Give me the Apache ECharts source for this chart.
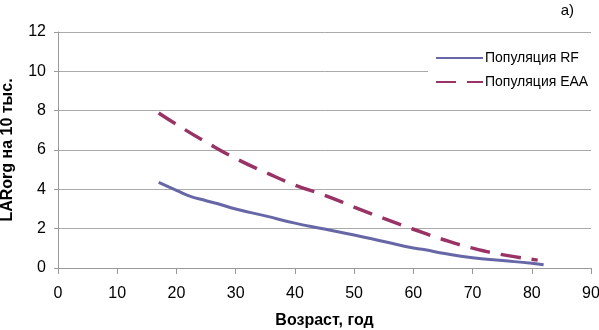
<!DOCTYPE html>
<html>
<head>
<meta charset="utf-8">
<script src="https://cdn.jsdelivr.net/npm/echarts@6/dist/echarts.min.js"></script>
<style>
  html, body { margin: 0; padding: 0; background: #fff; }
  #main { width: 599px; height: 330px; }
</style>
</head>
<body>
<div id="main"></div>
<script>
// возраст, годы
var agesRF  = [17, 20, 22, 25, 27, 30, 35, 40, 45, 50, 55, 60, 62, 65, 70, 75, 80, 82];
var valsRF  = [4.35, 3.95, 3.68, 3.42, 3.27, 3.0, 2.65, 2.28, 1.98, 1.68, 1.35, 1.02, 0.93, 0.75, 0.52, 0.38, 0.24, 0.17];
var agesEAA = [17, 20, 25, 30, 35, 40, 45, 50, 55, 60, 65, 70, 75, 81];
var valsEAA = [7.88, 7.3, 6.4, 5.57, 4.87, 4.22, 3.7, 3.1, 2.52, 1.97, 1.45, 1.01, 0.68, 0.4];
var seriesNames = ['Популяция RF', 'Популяция EAA'];

function pairs(xs, ys) {
  var out = [];
  for (var i = 0; i < xs.length; i++) out.push([xs[i], ys[i]]);
  return out;
}

var myChart = echarts.init(document.getElementById('main'));
var font = 'Liberation Sans, Arial, sans-serif';
var option = {
  animation: false,
  backgroundColor: '#fff',
  title: {
    text: 'а)',
    right: 20, top: -2,
    textStyle: { fontFamily: font, fontSize: 15, fontWeight: 'normal', color: '#000' }
  },
  grid: { left: 58, right: 8, top: 32, bottom: 62, outerBoundsMode: 'none', containLabel: false },
  legend: {
    orient: 'vertical',
    left: 428, top: 48,
    padding: [3, 8, 3, 7],
    backgroundColor: '#fff',
    itemWidth: 47, itemHeight: 14, itemGap: 10,
    itemStyle: { opacity: 0 },
    textStyle: { fontFamily: font, fontSize: 14, color: '#000', padding: [0, 0, 0, -3] },
    data: seriesNames
  },
  xAxis: {
    type: 'value', min: 0, max: 90, interval: 10,
    name: 'Возраст, год', nameLocation: 'middle', nameGap: 45,
    nameTextStyle: { fontFamily: font, fontSize: 16, fontWeight: 'bold', color: '#000' },
    axisLine: { lineStyle: { color: '#999' } },
    axisTick: { show: true, length: 6, lineStyle: { color: '#999' } },
    axisLabel: { fontFamily: font, fontSize: 16, color: '#000', margin: 18 },
    splitLine: { show: false }
  },
  yAxis: {
    type: 'value', min: 0, max: 12, interval: 2,
    name: 'LARorg на 10 тыс.', nameLocation: 'middle', nameGap: 42,
    nameTextStyle: { fontFamily: font, fontSize: 16, fontWeight: 'bold', color: '#000' },
    axisLine: { show: true, lineStyle: { color: '#999' } },
    axisTick: { show: true, length: 4, lineStyle: { color: '#999' } },
    axisLabel: { fontFamily: font, fontSize: 16, color: '#000', margin: 12 },
    splitLine: { lineStyle: { color: '#aaa' } }
  },
  series: [
    {
      name: seriesNames[0], type: 'line', smooth: true, symbol: 'none',
      lineStyle: { color: '#6767a8', width: 3 },
      itemStyle: { color: '#6767a8' },
      data: pairs(agesRF, valsRF)
    },
    {
      name: seriesNames[1], type: 'line', smooth: true, symbol: 'none',
      lineStyle: { color: '#993366', width: 3.5, type: [20, 11] },
      itemStyle: { color: '#993366' },
      data: pairs(agesEAA, valsEAA)
    }
  ]
};
myChart.setOption(option);
</script>
</body>
</html>
